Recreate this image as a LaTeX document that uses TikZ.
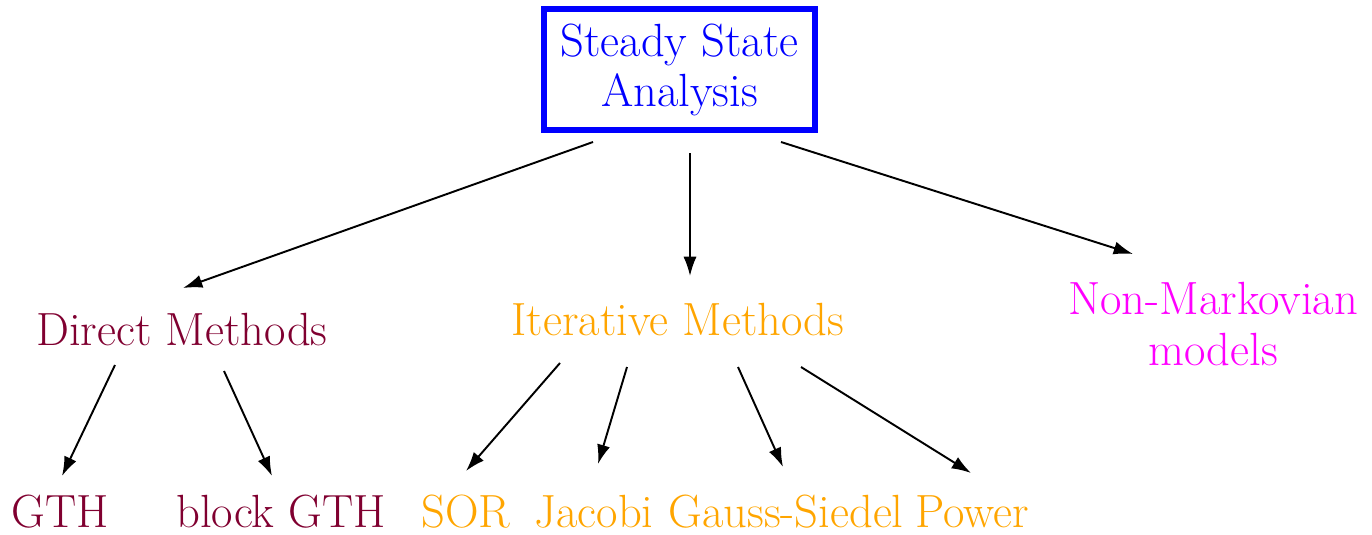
\documentclass[tikz,border=0pt]{standalone}
\usetikzlibrary{arrows.meta,calc}
\definecolor{directred}{RGB}{128,0,48}
\definecolor{iterorange}{RGB}{255,165,0}
\definecolor{nonmagenta}{RGB}{255,0,255}
\tikzset{
  lbl/.style={inner sep=0pt,anchor=base,font=\fontsize{26.5}{28.5}\selectfont},
  arr/.style={-{Latex[length=11pt,width=7.5pt]},line width=1.1pt,black},
}
\begin{document}
\begin{tikzpicture}[x=0.02cm,y=-0.02cm]
  \useasboundingbox (0,0) rectangle (1372,534);
  \node[draw=blue,line width=3.4pt,minimum width=5.42cm,minimum height=2.42cm,
        inner sep=0pt,align=center,text=blue,font=\fontsize{26.5}{28.5}\selectfont]
    (ssa) at (679.5,69.5) {Steady State\\Analysis};
  \node[lbl,text=directred] (direct) at (182,345) {Direct Methods};
  \node[lbl,text=iterorange] (iter) at (678,335) {Iterative Methods};
  \node[lbl,anchor=center,align=center,text=nonmagenta] (nonmark) at (1213,324) {Non-Markovian\\models};
  \node[lbl,text=directred] (gth) at (60,527) {GTH};
  \node[lbl,text=directred] (bgth) at (281,527) {block GTH};
  \node[lbl,text=iterorange] (sor) at (466,527) {SOR};
  \node[lbl,text=iterorange] (jacobi) at (594,527) {Jacobi};
  \node[lbl,text=iterorange] (gauss) at (786,527) {Gauss-Siedel};
  \node[lbl,text=iterorange] (power) at (972,527) {Power};
  % top level
  \draw[arr] ($(ssa.center)+(-86.5,72.5)$) -- ($(direct.base)+(1,-57)$);
  \draw[arr] ($(ssa.center)+(10.5,83.5)$) -- ($(iter.base)+(12,-59)$);
  \draw[arr] ($(ssa.center)+(101.5,72.5)$) -- ($(nonmark.center)+(-80,-70)$);
  % direct
  \draw[arr] ($(direct.base)+(-67,20)$) -- ($(gth.base)+(2,-51)$);
  \draw[arr] ($(direct.base)+(42,26)$) -- ($(bgth.base)+(-9,-51)$);
  % iterative
  \draw[arr] ($(iter.base)+(-118,28)$) -- ($(sor.base)+(0,-56)$);
  \draw[arr] ($(iter.base)+(-51,32)$) -- ($(jacobi.base)+(4,-63)$);
  \draw[arr] ($(iter.base)+(60,32)$) -- ($(gauss.base)+(-3,-60)$);
  \draw[arr] ($(iter.base)+(123,32)$) -- ($(power.base)+(-1,-54)$);
\end{tikzpicture}
\end{document}
